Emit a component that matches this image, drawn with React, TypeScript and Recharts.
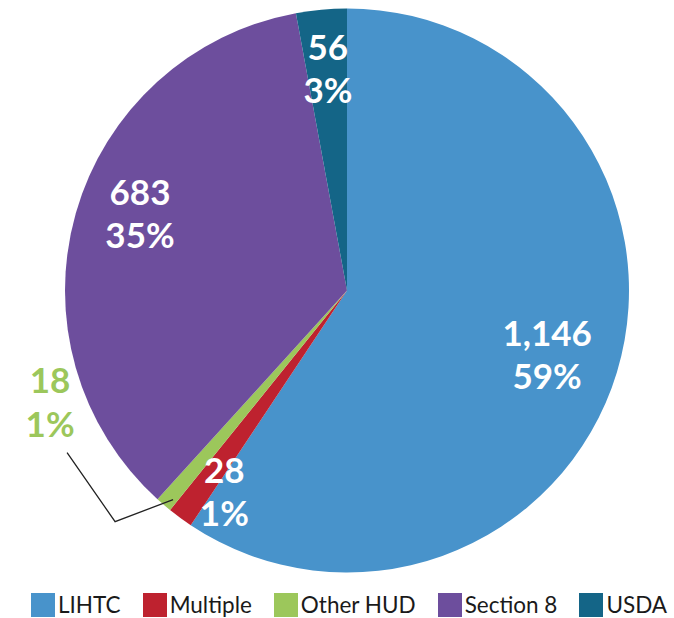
import React from "react";
import { PieChart, Pie, Cell, Legend } from "recharts";

const categories = ["LIHTC", "Multiple", "Other HUD", "Section 8", "USDA"];
const counts = [1146, 28, 18, 683, 56];
const colors = ["#4893CB", "#BE222F", "#9CC75B", "#6D4E9D", "#146587"];

const data = categories.map((name, i) => ({ name, value: counts[i] }));

const RADIAN = Math.PI / 180;

// label placement tweaks (angle delta in degrees, radius in px)
const labelTweak: Record<string, [number, number]> = {
  LIHTC: [-0.8, 210],
  Multiple: [4.8, 235],
  "Section 8": [-4.6, 221],
  USDA: [-0.3, 223],
};

const renderLabel = (props: any) => {
  const { cx, cy, midAngle, outerRadius, percent, name, value } = props;
  const pct = `${Math.round(percent * 100)}%`;
  const num = Number(value).toLocaleString("en-US");
  const font = { fontFamily: "Lato, sans-serif", fontWeight: 700, fontSize: 35 };
  if (name === "Other HUD") {
    const a = -(midAngle + 0.8) * RADIAN;
    const px = cx + (outerRadius - 10) * Math.cos(a);
    const py = cy + (outerRadius - 10) * Math.sin(a);
    const ex = px - 58;
    const ey = py + 22;
    const sx = ex - 48;
    const sy = ey - 69;
    const tx = sx - 17;
    const ty = sy - 51;
    return (
      <g>
        <polyline
          points={`${px},${py} ${ex},${ey} ${sx},${sy}`}
          fill="none"
          stroke="#222"
          strokeWidth={1.3}
        />
        <text x={tx} y={ty} textAnchor="middle" fill="#9CC75B" {...font}>
          <tspan x={tx} dy={-9}>{num}</tspan>
          <tspan x={tx} dy={44}>{pct}</tspan>
        </text>
      </g>
    );
  }
  const tw = labelTweak[name] || [0, 0.76 * outerRadius];
  const ang = -(midAngle + tw[0]) * RADIAN;
  const x = cx + tw[1] * Math.cos(ang);
  const y = cy + tw[1] * Math.sin(ang);
  return (
    <text x={x} y={y} textAnchor="middle" fill="#ffffff" {...font}>
      <tspan x={x} dy={-8}>{num}</tspan>
      <tspan x={x} dy={43}>{pct}</tspan>
    </text>
  );
};

const renderLegend = () => (
  <div
    style={{
      display: "flex",
      flexWrap: "nowrap",
      alignItems: "center",
      fontFamily: "Lato, sans-serif",
      fontSize: 22.5,
      color: "#1a1a1a",
      paddingLeft: 31,
      width: 674,
      boxSizing: "border-box",
      whiteSpace: "nowrap",
    }}
  >
    {categories.map((c, i) => (
      <div
        key={c}
        style={{ display: "flex", alignItems: "center", marginRight: 22, flexShrink: 0 }}
      >
        <div style={{ width: 24, height: 24, background: colors[i], marginRight: 3, flexShrink: 0 }} />
        <span style={{ lineHeight: "24px", whiteSpace: "nowrap" }}>{c}</span>
      </div>
    ))}
  </div>
);

export default function App() {
  return (
    <div style={{ position: "absolute", left: 0, top: 0, background: "#fff" }}>
      <PieChart width={674} height={618} margin={{ top: 0, right: 0, bottom: 0, left: 0 }}>
        <Pie
          data={data}
          dataKey="value"
          nameKey="name"
          cx={347}
          cy={290.5}
          outerRadius={282}
          startAngle={90}
          endAngle={-270}
          stroke="none"
          label={renderLabel}
          labelLine={false}
          isAnimationActive={false}
        >
          {data.map((d, i) => (
            <Cell key={d.name} fill={colors[i]} />
          ))}
        </Pie>
        <Legend
          content={renderLegend}
          wrapperStyle={{ position: "absolute", left: 0, top: 593, width: 674 }}
        />
      </PieChart>
    </div>
  );
}
